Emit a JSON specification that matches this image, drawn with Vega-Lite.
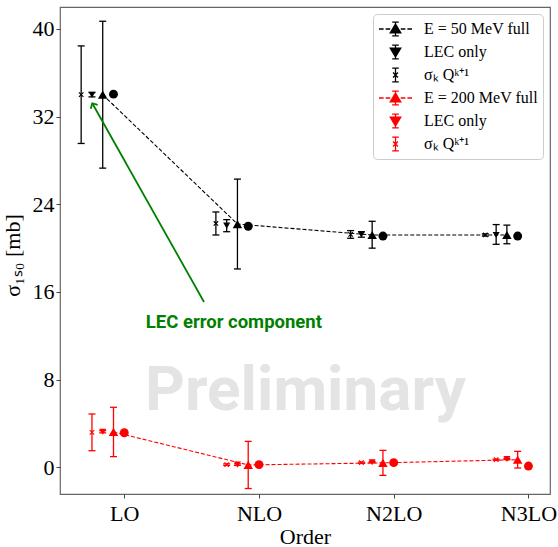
{
  "$schema": "https://vega.github.io/schema/vega-lite/v6.json",
  "width": 490,
  "height": 487,
  "autosize": "none",
  "padding": {"left": 60, "top": 7, "right": 8, "bottom": 53},
  "background": "white",
  "datasets": {
    "d": [
      {"series": "50 full", "order": 0, "v": 34.0, "lo": 27.3, "hi": 40.7},
      {"series": "50 full", "order": 1, "v": 22.2, "lo": 18.1, "hi": 26.3},
      {"series": "50 full", "order": 2, "v": 21.2, "lo": 20.0, "hi": 22.45},
      {"series": "50 full", "order": 3, "v": 21.2, "lo": 20.4, "hi": 22.1},
      {"series": "50 lec", "order": 0, "v": 34.0, "lo": 33.8, "hi": 34.2},
      {"series": "50 lec", "order": 1, "v": 22.05, "lo": 21.5, "hi": 22.6},
      {"series": "50 lec", "order": 2, "v": 21.25, "lo": 21.0, "hi": 21.5},
      {"series": "50 lec", "order": 3, "v": 21.2, "lo": 20.35, "hi": 22.15},
      {"series": "50 sigma", "order": 0, "v": 34.0, "lo": 29.55, "hi": 38.45},
      {"series": "50 sigma", "order": 1, "v": 22.25, "lo": 21.2, "hi": 23.3},
      {"series": "50 sigma", "order": 2, "v": 21.25, "lo": 20.9, "hi": 21.6},
      {"series": "50 sigma", "order": 3, "v": 21.2, "lo": 21.1, "hi": 21.3},
      {"series": "50 circle", "order": 0, "v": 34.05},
      {"series": "50 circle", "order": 1, "v": 22.0},
      {"series": "50 circle", "order": 2, "v": 21.1},
      {"series": "50 circle", "order": 3, "v": 21.1},
      {"series": "200 full", "order": 0, "v": 3.23, "lo": 0.98, "hi": 5.48},
      {"series": "200 full", "order": 1, "v": 0.22, "lo": -1.93, "hi": 2.37},
      {"series": "200 full", "order": 2, "v": 0.41, "lo": -0.73, "hi": 1.55},
      {"series": "200 full", "order": 3, "v": 0.7, "lo": -0.06, "hi": 1.46},
      {"series": "200 lec", "order": 0, "v": 3.25, "lo": 3.15, "hi": 3.35},
      {"series": "200 lec", "order": 1, "v": 0.25, "lo": 0.18, "hi": 0.32},
      {"series": "200 lec", "order": 2, "v": 0.47, "lo": 0.42, "hi": 0.52},
      {"series": "200 lec", "order": 3, "v": 0.76, "lo": 0.71, "hi": 0.81},
      {"series": "200 sigma", "order": 0, "v": 3.2, "lo": 1.52, "hi": 4.87},
      {"series": "200 sigma", "order": 1, "v": 0.25, "lo": 0.18, "hi": 0.32},
      {"series": "200 sigma", "order": 2, "v": 0.43, "lo": 0.38, "hi": 0.48},
      {"series": "200 sigma", "order": 3, "v": 0.7, "lo": 0.65, "hi": 0.75},
      {"series": "200 circle", "order": 0, "v": 3.16},
      {"series": "200 circle", "order": 1, "v": 0.25},
      {"series": "200 circle", "order": 2, "v": 0.43},
      {"series": "200 circle", "order": 3, "v": 0.12}
    ]
  },
  "layer": [
    {
      "data": {"values": [{"label": "Preliminary"}]},
      "mark": {"type": "text", "font": "Roboto", "fontWeight": "bold", "fontSize": 62, "color": "#e4e4e4", "align": "center", "baseline": "alphabetic"},
      "encoding": {
        "x": {"datum": 1.345, "type": "quantitative", "scale": {"domain": [-0.477, 3.16], "nice": false, "zero": false}},
        "y": {"datum": 5.24, "type": "quantitative", "scale": {"domain": [-2.43, 42.0], "nice": false, "zero": false}},
        "text": {"field": "label"}
      }
    },
    {
      "data": {"name": "d"},
      "encoding": {
        "x": {
          "field": "order", "type": "quantitative",
          "scale": {"domain": [-0.477, 3.16], "nice": false, "zero": false},
          "axis": {"values": [0, 1, 2, 3], "labelExpr": "['LO','NLO','N2LO','N3LO'][datum.value]", "title": "Order", "labelPadding": 5, "titlePadding": 2, "labelFont": "Liberation Serif", "titleFont": "Liberation Serif"}
        },
        "y": {
          "field": "v", "type": "quantitative",
          "scale": {"domain": [-2.43, 42.0], "nice": false, "zero": false},
          "axis": {"values": [0, 8, 16, 24, 32, 40], "title": "σ₁ₛ₀ [mb]", "labelPadding": 2, "titlePadding": 8, "titleY": 248, "labelFont": "Liberation Serif", "titleFont": "Liberation Serif"}
        }
      },
      "layer": [
        {"transform": [{"filter": "datum.series == '50 full'"}], "mark": {"type": "line", "color": "black", "strokeDash": [4, 2], "strokeWidth": 1.1, "xOffset": -21.55}, "encoding": {}},
        {"transform": [{"filter": "datum.series == '50 full'"}], "layer": [
          {"mark": {"type": "rule", "color": "black", "strokeWidth": 1.3, "xOffset": -21.55}, "encoding": {"y": {"field": "lo", "type": "quantitative"}, "y2": {"field": "hi"}}},
          {"transform": [{"fold": ["lo", "hi"], "as": ["end", "yv"]}], "mark": {"type": "point", "shape": "M-1,0H1", "size": 49, "color": "black", "strokeWidth": 1.3, "opacity": 1, "xOffset": -21.55}, "encoding": {"y": {"field": "yv", "type": "quantitative"}}},
          {"mark": {"type": "point", "shape": "triangle-up", "filled": true, "size": 90, "color": "black", "opacity": 1, "xOffset": -21.55}}
        ]},
        {"transform": [{"filter": "datum.series == '50 lec'"}], "layer": [
          {"mark": {"type": "rule", "color": "black", "strokeWidth": 1.3, "xOffset": -32.3}, "encoding": {"y": {"field": "lo", "type": "quantitative"}, "y2": {"field": "hi"}}},
          {"transform": [{"fold": ["lo", "hi"], "as": ["end", "yv"]}], "mark": {"type": "point", "shape": "M-1,0H1", "size": 49, "color": "black", "strokeWidth": 1.3, "opacity": 1, "xOffset": -32.3}, "encoding": {"y": {"field": "yv", "type": "quantitative"}}},
          {"mark": {"type": "point", "shape": "triangle-down", "filled": true, "size": 50, "color": "black", "opacity": 1, "xOffset": -32.3}}
        ]},
        {"transform": [{"filter": "datum.series == '50 sigma'"}], "layer": [
          {"mark": {"type": "rule", "color": "black", "strokeWidth": 1.3, "xOffset": -43.1}, "encoding": {"y": {"field": "lo", "type": "quantitative"}, "y2": {"field": "hi"}}},
          {"transform": [{"fold": ["lo", "hi"], "as": ["end", "yv"]}], "mark": {"type": "point", "shape": "M-1,0H1", "size": 49, "color": "black", "strokeWidth": 1.3, "opacity": 1, "xOffset": -43.1}, "encoding": {"y": {"field": "yv", "type": "quantitative"}}},
          {"mark": {"type": "point", "shape": "M-1,-1L1,1M-1,1L1,-1", "size": 20, "color": "black", "strokeWidth": 1.1, "opacity": 1, "xOffset": -43.1}}
        ]},
        {"transform": [{"filter": "datum.series == '50 circle'"}], "mark": {"type": "point", "shape": "circle", "filled": true, "size": 80, "color": "black", "opacity": 1, "xOffset": -10.78}},
        {"transform": [{"filter": "datum.series == '200 full'"}], "mark": {"type": "line", "color": "red", "strokeDash": [4, 2], "strokeWidth": 1.1, "xOffset": -10.78}, "encoding": {}},
        {"transform": [{"filter": "datum.series == '200 full'"}], "layer": [
          {"mark": {"type": "rule", "color": "red", "strokeWidth": 1.3, "xOffset": -10.78}, "encoding": {"y": {"field": "lo", "type": "quantitative"}, "y2": {"field": "hi"}}},
          {"transform": [{"fold": ["lo", "hi"], "as": ["end", "yv"]}], "mark": {"type": "point", "shape": "M-1,0H1", "size": 49, "color": "red", "strokeWidth": 1.3, "opacity": 1, "xOffset": -10.78}, "encoding": {"y": {"field": "yv", "type": "quantitative"}}},
          {"mark": {"type": "point", "shape": "triangle-up", "filled": true, "size": 90, "color": "red", "opacity": 1, "xOffset": -10.78}}
        ]},
        {"transform": [{"filter": "datum.series == '200 lec'"}], "layer": [
          {"mark": {"type": "rule", "color": "red", "strokeWidth": 1.3, "xOffset": -21.55}, "encoding": {"y": {"field": "lo", "type": "quantitative"}, "y2": {"field": "hi"}}},
          {"transform": [{"fold": ["lo", "hi"], "as": ["end", "yv"]}], "mark": {"type": "point", "shape": "M-1,0H1", "size": 49, "color": "red", "strokeWidth": 1.3, "opacity": 1, "xOffset": -21.55}, "encoding": {"y": {"field": "yv", "type": "quantitative"}}},
          {"mark": {"type": "point", "shape": "triangle-down", "filled": true, "size": 50, "color": "red", "opacity": 1, "xOffset": -21.55}}
        ]},
        {"transform": [{"filter": "datum.series == '200 sigma'"}], "layer": [
          {"mark": {"type": "rule", "color": "red", "strokeWidth": 1.3, "xOffset": -32.3}, "encoding": {"y": {"field": "lo", "type": "quantitative"}, "y2": {"field": "hi"}}},
          {"transform": [{"fold": ["lo", "hi"], "as": ["end", "yv"]}], "mark": {"type": "point", "shape": "M-1,0H1", "size": 49, "color": "red", "strokeWidth": 1.3, "opacity": 1, "xOffset": -32.3}, "encoding": {"y": {"field": "yv", "type": "quantitative"}}},
          {"mark": {"type": "point", "shape": "M-1,-1L1,1M-1,1L1,-1", "size": 20, "color": "red", "strokeWidth": 1.1, "opacity": 1, "xOffset": -32.3}}
        ]},
        {"transform": [{"filter": "datum.series == '200 circle'"}], "mark": {"type": "point", "shape": "circle", "filled": true, "size": 80, "color": "red", "opacity": 1}},
        {
          "transform": [{"filter": "indexof(datum.series, 'circle') < 0"}],
          "mark": {"type": "point", "opacity": 0},
          "encoding": {
            "shape": {
              "field": "series", "type": "nominal",
              "scale": {
                "domain": ["50 full", "50 lec", "50 sigma", "200 full", "200 lec", "200 sigma"],
                "range": [
                  "M-1,0H-0.72M-0.6,0H-0.32M0.32,0H0.6M0.72,0H1M0,-0.42V0.42M-0.2,-0.42H0.2M-0.2,0.42H0.2M0,-0.3L0.32,0.24L-0.32,0.24Z",
                  "M0,-0.42V0.42M-0.2,-0.42H0.2M-0.2,0.42H0.2M0,0.3L0.32,-0.24L-0.32,-0.24Z",
                  "M0,-0.42V0.42M-0.2,-0.42H0.2M-0.2,0.42H0.2M-0.15,-0.15L0.15,0.15M-0.15,0.15L0.15,-0.15",
                  "M-1,0H-0.72M-0.6,0H-0.32M0.32,0H0.6M0.72,0H1M0,-0.42V0.42M-0.2,-0.42H0.2M-0.2,0.42H0.2M0,-0.3L0.32,0.24L-0.32,0.24Z",
                  "M0,-0.42V0.42M-0.2,-0.42H0.2M-0.2,0.42H0.2M0,0.3L0.32,-0.24L-0.32,-0.24Z",
                  "M0,-0.42V0.42M-0.2,-0.42H0.2M-0.2,0.42H0.2M-0.15,-0.15L0.15,0.15M-0.15,0.15L0.15,-0.15"
                ]
              },
              "legend": {
                "title": null, "orient": "top-right", "offset": 7, "padding": 5,
                "fillColor": "rgba(255,255,255,0.85)", "strokeColor": "#cccccc", "cornerRadius": 4,
                "symbolSize": 1089, "symbolStrokeWidth": 1.3, "symbolOpacity": 1,
                "clipHeight": 20, "rowPadding": 3, "labelOffset": 11,
                "labelFont": "Liberation Serif", "labelFontSize": 16, "labelColor": "black", "labelLimit": 300,
                "labelExpr": "datum.value == '50 full' ? 'E = 50 MeV full' : datum.value == '200 full' ? 'E = 200 MeV full' : indexof(datum.value, 'lec') >= 0 ? 'LEC only' : 'σₖ Qᵏ⁺¹'"
              }
            },
            "fill": {
              "field": "series", "type": "nominal",
              "scale": {"domain": ["50 full", "50 lec", "50 sigma", "200 full", "200 lec", "200 sigma"], "range": ["black", "black", "black", "red", "red", "red"]},
              "legend": {"title": null}
            },
            "stroke": {
              "field": "series", "type": "nominal",
              "scale": {"domain": ["50 full", "50 lec", "50 sigma", "200 full", "200 lec", "200 sigma"], "range": ["black", "black", "black", "red", "red", "red"]},
              "legend": {"title": null}
            }
          }
        }
      ]
    },
    {
      "data": {"values": [{"x": 0.592, "y": 15.09, "x2": -0.2376, "y2": 33.22}]},
      "mark": {"type": "rule", "color": "#008000", "strokeWidth": 1.8},
      "encoding": {"x": {"field": "x", "type": "quantitative"}, "y": {"field": "y", "type": "quantitative"}, "x2": {"field": "x2"}, "y2": {"field": "y2"}}
    },
    {
      "data": {"values": [{"x": -0.2376, "y": 33.22}]},
      "mark": {"type": "point", "shape": "M-1,1L0,0L1,1", "size": 64, "angle": 330.7, "color": "#008000", "strokeWidth": 1.8, "opacity": 1, "filled": false},
      "encoding": {"x": {"field": "x", "type": "quantitative"}, "y": {"field": "y", "type": "quantitative"}}
    },
    {
      "data": {"values": [{"x": 0.8137, "y": 12.72, "label": "LEC error component"}]},
      "mark": {"type": "text", "font": "Roboto", "fontWeight": "bold", "fontSize": 18.5, "color": "#008000", "align": "center", "baseline": "alphabetic"},
      "encoding": {"x": {"field": "x", "type": "quantitative"}, "y": {"field": "y", "type": "quantitative"}, "text": {"field": "label"}}
    }
  ],
  "config": {
    "font": "Liberation Serif",
    "view": {"stroke": "#666666", "strokeWidth": 1.2},
    "axis": {
      "grid": false, "domain": false, "tickColor": "#444444", "tickSize": 4, "tickWidth": 1,
      "labelFont": "Liberation Serif", "labelFontSize": 22, "labelColor": "black",
      "titleFont": "Liberation Serif", "titleFontSize": 22, "titleFontWeight": "normal", "titleColor": "black"
    }
  }
}
